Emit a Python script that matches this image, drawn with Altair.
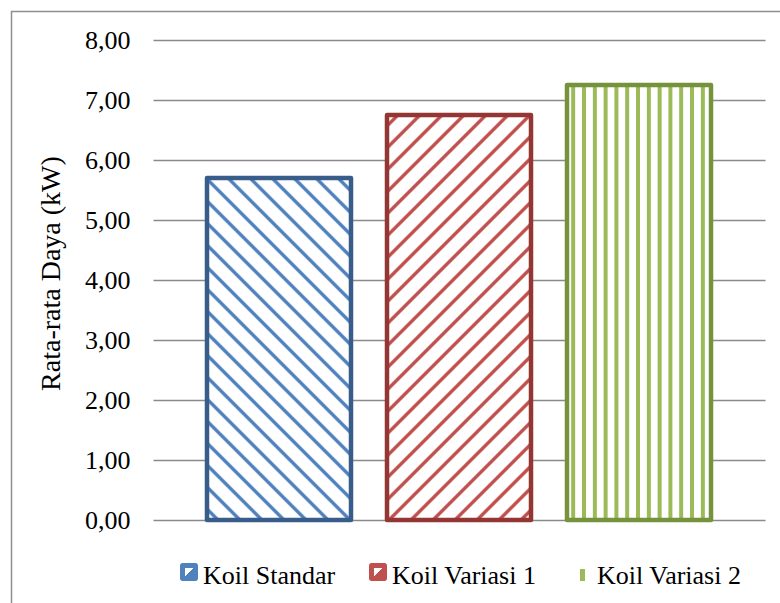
import math
import altair as alt
import pandas as pd

# Average power per coil type
categories = ["Koil Standar", "Koil Variasi 1", "Koil Variasi 2"]
values = [5.70, 6.75, 7.25]
y_ticks = [0, 1, 2, 3, 4, 5, 6, 7, 8]

stripe_colors = ["#4F81BD", "#C0504D", "#9BBB59"]
edge_colors = ["#385D8A", "#943634", "#76923C"]
hatch_kinds = ["back", "fwd", "vert"]

FONT = "Liberation Serif"
W, H = 612, 480
Y_MAX = 8
PX_PER_UNIT = H / Y_MAX
PAD_INNER, PAD_OUTER = 0.2, 0.3
STEP = W / (len(categories) - PAD_INNER + 2 * PAD_OUTER)
BAND = STEP * (1 - PAD_INNER)

df = pd.DataFrame({"koil": categories, "daya": values})


def stripe_stops(color, periods, duty, soft, bg="#ffffff"):
    """Hard-edged stripe stops (with a slight soft edge) along t in [0, 1]."""
    stops = [alt.GradientStop(offset=0, color=bg)]
    e = soft / periods
    for k in range(0, int(math.ceil(periods)) + 1):
        a = (k + 0.35) / periods
        b = (k + 0.35 + duty) / periods
        for off, c in ((a, bg), (a + e, color), (b - e, color), (b, bg)):
            if 0 < off < 1:
                stops.append(alt.GradientStop(offset=off, color=c))
    stops.append(alt.GradientStop(offset=1, color=bg))
    return stops


def hatch_fill(kind, color, value):
    w = BAND
    h = value * PX_PER_UNIT
    if kind == "vert":
        spacing = 10.8
        periods = w / spacing
        return alt.LinearGradient(gradient="linear", x1=0, y1=0, x2=1, y2=0,
                                  stops=stripe_stops(color, periods, 0.45, 0.08))
    spacing = 22.0  # horizontal distance between 45-degree hatch lines
    periods = (w + h) / spacing
    k = (w + h) / (w * w + h * h)
    if kind == "back":
        x1, y1, x2, y2 = 0, 1, k * w, 1 - k * h
    else:
        x1, y1, x2, y2 = 0, 0, k * w, k * h
    return alt.LinearGradient(gradient="linear", x1=x1, y1=y1, x2=x2, y2=y2,
                              stops=stripe_stops(color, periods, 0.30, 0.08))


x_enc = alt.X("koil:N", sort=categories, axis=None,
              scale=alt.Scale(domain=categories, paddingInner=PAD_INNER,
                              paddingOuter=PAD_OUTER))
y_enc = alt.Y(
    "daya:Q",
    scale=alt.Scale(domain=[0, Y_MAX], nice=False, zero=True),
    axis=alt.Axis(
        values=y_ticks,
        labelExpr="replace(format(datum.value, '.2f'), '.', ',')",
        title="Rata-rata Daya (kW)",
        titleFont=FONT, titleFontSize=28, titleFontWeight="normal",
        titleColor="#000000", titleAngle=-90, titleAlign="center",
        titleBaseline="alphabetic", titleX=-94, titleY=233,
        labelFont=FONT, labelFontSize=26, labelColor="#000000",
        labelPadding=23, ticks=False, tickSize=0, domain=False,
        grid=True, gridColor="#8a8a8a", gridWidth=1.3,
    ),
)

# outer frame of the chart box
frame = alt.Chart(alt.Data(values=[{}])).mark_rect(
    filled=False, stroke="#8f8f8f", strokeWidth=1.5
).encode(x=alt.value(-141.5), x2=alt.value(720),
         y=alt.value(-28.5), y2=alt.value(640))

layers = [frame]
for name, val, col, edge, kind in zip(categories, values, stripe_colors,
                                      edge_colors, hatch_kinds):
    layers.append(
        alt.Chart(df).transform_filter(alt.datum.koil == name).mark_bar(
            fill=hatch_fill(kind, col, val), stroke=edge, strokeWidth=4.5,
            strokeJoin="round",
        ).encode(x=x_enc, y=y_enc)
    )

# legend along the bottom
legend_sym_x = [27, 216]
legend_text_x = [50, 239, 444]
sym_top, sym_bottom = 523, 541
for i, name in enumerate(categories):
    if i < 2:
        x0 = legend_sym_x[i]
        layers.append(
            alt.Chart(alt.Data(values=[{}])).mark_rect(
                fill=stripe_colors[i], cornerRadius=2.5
            ).encode(x=alt.value(x0), x2=alt.value(x0 + 18),
                     y=alt.value(sym_top), y2=alt.value(sym_bottom))
        )
        layers.append(
            alt.Chart(alt.Data(values=[{}])).mark_rect(
                fill=alt.LinearGradient(
                    gradient="linear", x1=0, y1=0, x2=1, y2=1,
                    stops=[alt.GradientStop(offset=0, color="#ffffff"),
                           alt.GradientStop(offset=0.5, color="#ffffff"),
                           alt.GradientStop(offset=0.56, color=stripe_colors[i]),
                           alt.GradientStop(offset=1, color=stripe_colors[i])])
            ).encode(x=alt.value(x0 + 5), x2=alt.value(x0 + 13),
                     y=alt.value(sym_top + 5), y2=alt.value(sym_bottom - 5))
        )
    else:
        layers.append(
            alt.Chart(alt.Data(values=[{}])).mark_rect(fill=stripe_colors[i]).encode(
                x=alt.value(427), x2=alt.value(432),
                y=alt.value(529), y2=alt.value(541))
        )
    layers.append(
        alt.Chart(df).transform_filter(alt.datum.koil == name).mark_text(
            align="left", baseline="alphabetic", font=FONT, fontSize=26,
            color="#000000"
        ).encode(x=alt.value(legend_text_x[i]), y=alt.value(544), text="koil:N")
    )

chart = alt.layer(*layers).properties(
    width=W, height=H,
    padding={"left": 153, "top": 40, "right": 15, "bottom": 83},
    autosize=alt.AutoSizeParams(type="none"),
    background="#ffffff",
).configure_view(strokeWidth=0)

chart.save("out.html", embed_options={"renderer": "svg", "actions": False})
